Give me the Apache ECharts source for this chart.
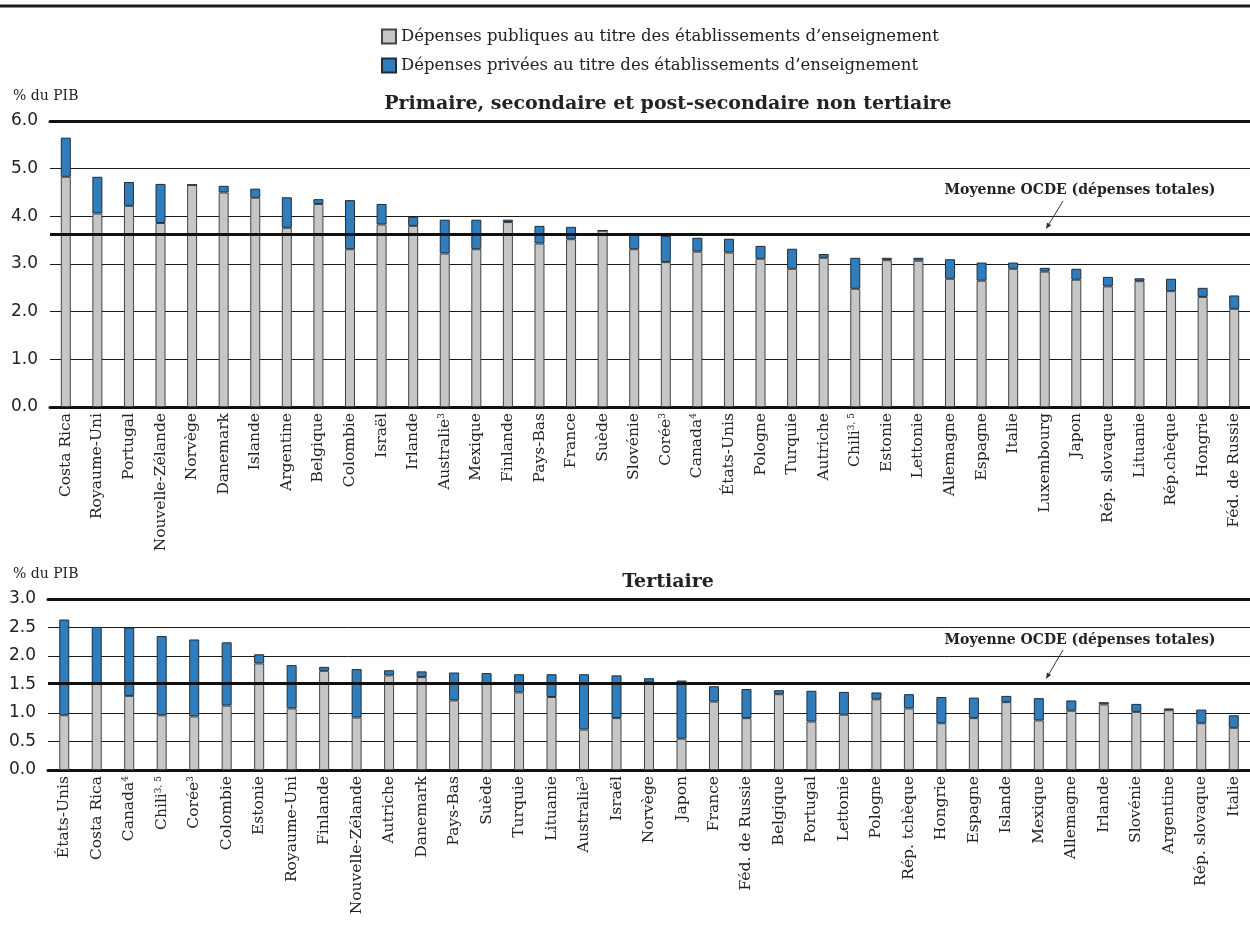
<!DOCTYPE html>
<html>
<head>
<meta charset="utf-8">
<title>Dépenses au titre des établissements d'enseignement</title>
<script src="https://cdn.jsdelivr.net/npm/echarts@6/dist/echarts.min.js"></script>
<style>
  html, body { margin: 0; padding: 0; background: #fff; }
  #chart { width: 1250px; height: 931px; }
</style>
</head>
<body>
<div id="chart"></div>
<script>
// Primaire, secondaire et post-secondaire non tertiaire (% du PIB)
const countriesSec = ['Costa Rica', 'Royaume-Uni', 'Portugal', 'Nouvelle-Zélande', 'Norvège', 'Danemark', 'Islande',
  'Argentine', 'Belgique', 'Colombie', 'Israël', 'Irlande', 'Australie^3', 'Mexique', 'Finlande', 'Pays-Bas', 'France',
  'Suède', 'Slovénie', 'Corée^3', 'Canada^4', 'États-Unis', 'Pologne', 'Turquie', 'Autriche', 'Chili^3, 5', 'Estonie',
  'Lettonie', 'Allemagne', 'Espagne', 'Italie', 'Luxembourg', 'Japon', 'Rép. slovaque', 'Lituanie', 'Rép.chèque',
  'Hongrie', 'Féd. de Russie']
const publicSec = [4.83, 4.06, 4.22, 3.86, 4.66, 4.50, 4.39, 3.76, 4.26, 3.31, 3.83, 3.80, 3.22, 3.31, 3.88, 3.43, 3.52,
  3.70, 3.31, 3.04, 3.26, 3.24, 3.11, 2.90, 3.13, 2.48, 3.08, 3.07, 2.69, 2.65, 2.90, 2.84, 2.67, 2.53, 2.64, 2.43, 2.31, 2.06]
const privateSec = [0.82, 0.77, 0.50, 0.82, 0.00, 0.14, 0.19, 0.64, 0.10, 1.03, 0.43, 0.19, 0.71, 0.62, 0.05, 0.37, 0.26,
  0.00, 0.34, 0.55, 0.29, 0.29, 0.27, 0.42, 0.08, 0.65, 0.05, 0.06, 0.41, 0.38, 0.13, 0.08, 0.23, 0.20, 0.06, 0.26, 0.19, 0.28]
const oecdSec = 3.62

// Tertiaire (% du PIB)
const countriesTer = ['États-Unis', 'Costa Rica', 'Canada^4', 'Chili^3, 5', 'Corée^3', 'Colombie', 'Estonie', 'Royaume-Uni',
  'Finlande', 'Nouvelle-Zélande', 'Autriche', 'Danemark', 'Pays-Bas', 'Suède', 'Turquie', 'Lituanie', 'Australie^3',
  'Israël', 'Norvège', 'Japon', 'France', 'Féd. de Russie', 'Belgique', 'Portugal', 'Lettonie', 'Pologne', 'Rép. tchèque',
  'Hongrie', 'Espagne', 'Islande', 'Mexique', 'Allemagne', 'Irlande', 'Slovénie', 'Argentine', 'Rép. slovaque', 'Italie']
const publicTer = [0.96, 1.52, 1.30, 0.96, 0.94, 1.13, 1.87, 1.08, 1.74, 0.92, 1.66, 1.63, 1.22, 1.52, 1.36, 1.28, 0.71,
  0.91, 1.54, 0.55, 1.20, 0.91, 1.33, 0.85, 0.97, 1.24, 1.08, 0.82, 0.91, 1.19, 0.87, 1.04, 1.15, 1.02, 1.05, 0.82, 0.74]
const privateTer = [1.68, 0.99, 1.20, 1.39, 1.35, 1.11, 0.16, 0.76, 0.07, 0.85, 0.09, 0.10, 0.49, 0.18, 0.32, 0.40, 0.97,
  0.75, 0.07, 1.02, 0.27, 0.51, 0.07, 0.54, 0.40, 0.12, 0.25, 0.46, 0.36, 0.11, 0.39, 0.18, 0.04, 0.14, 0.03, 0.24, 0.22]
const oecdTer = 1.52

const ticksSec = { min: 0, max: 6, interval: 1 }
const ticksTer = { min: 0, max: 3, interval: 0.5 }

const NAME_PUB = 'Dépenses publiques au titre des établissements d’enseignement'
const NAME_PRIV = 'Dépenses privées au titre des établissements d’enseignement'
const serif = 'DejaVu Serif'
const grey = '#c6c6c6'
const blue = '#2f7dbd'
const ink = '#222'

const chart = echarts.init(document.getElementById('chart'))

function catAxis(idx, data) {
  return {
    type: 'category',
    gridIndex: idx,
    data: data,
    axisLine: { lineStyle: { color: '#111', width: 3 } },
    axisTick: { show: false },
    axisLabel: {
      interval: 0,
      rotate: 90,
      margin: 6,
      fontFamily: serif,
      fontSize: 15.5,
      color: ink,
      formatter: v => {
        const p = v.split('^')
        return p.length > 1 ? p[0] + '{sup|' + p[1] + '}' : v
      },
      rich: { sup: { fontSize: 9, fontFamily: serif, color: ink, verticalAlign: 'top', lineHeight: 9 } }
    }
  }
}

function topAxis(idx, data) {
  return {
    type: 'category',
    gridIndex: idx,
    position: 'top',
    data: data,
    axisLine: { lineStyle: { color: '#111', width: 3 } },
    axisTick: { show: false },
    axisLabel: { show: false }
  }
}

function valAxis(idx, t) {
  return {
    type: 'value',
    gridIndex: idx,
    min: t.min,
    max: t.max,
    interval: t.interval,
    axisLine: { show: false },
    axisTick: { show: false },
    splitLine: { lineStyle: { color: '#1a1a1a', width: 1 } },
    axisLabel: {
      margin: 12,
      fontFamily: 'DejaVu Sans',
      fontSize: 17,
      color: ink,
      formatter: v => v.toFixed(1)
    }
  }
}

function bars(idx, stack, pub, priv, avg) {
  const base = { type: 'bar', xAxisIndex: idx, yAxisIndex: idx, stack: stack, barWidth: 10 }
  return [
    Object.assign({}, base, {
      name: NAME_PUB,
      data: pub,
      itemStyle: { color: grey, borderColor: '#444', borderWidth: 1 }
    }),
    Object.assign({}, base, {
      name: NAME_PRIV,
      data: priv,
      itemStyle: { color: blue, borderColor: '#1f2d3a', borderWidth: 1 },
      markLine: {
        silent: true,
        symbol: 'none',
        z: 10,
        label: { show: false },
        lineStyle: { color: '#111', width: 3, type: 'solid' },
        data: [{ yAxis: avg }]
      }
    })
  ]
}

function arrow(x1, y1, x2, y2) {
  const dx = x2 - x1, dy = y2 - y1
  const len = Math.sqrt(dx * dx + dy * dy)
  const ux = dx / len, uy = dy / len
  const bx = x2 - ux * 6, by = y2 - uy * 6
  return [
    { type: 'line', shape: { x1, y1, x2: bx, y2: by }, style: { stroke: '#333', lineWidth: 1 } },
    {
      type: 'polygon',
      shape: { points: [[x2, y2], [bx + uy * 2.5, by - ux * 2.5], [bx - uy * 2.5, by + ux * 2.5]] },
      style: { fill: '#333' }
    }
  ]
}

function note(x, y) {
  return {
    type: 'text',
    style: { text: 'Moyenne OCDE (dépenses totales)', x, y, align: 'center', verticalAlign: 'middle',
      font: 'bold 14px "DejaVu Serif"', fill: ink }
  }
}

function plainText(txt, x, y, font, align) {
  return {
    type: 'text',
    style: { text: txt, x, y, align: align || 'left', verticalAlign: 'middle', font, fill: ink }
  }
}

chart.setOption({
  animation: false,
  legend: {
    orient: 'vertical',
    left: 376,
    top: 23,
    itemWidth: 14,
    itemHeight: 14,
    itemGap: 12,
    icon: 'rect',
    data: [NAME_PUB, NAME_PRIV],
    textStyle: { fontFamily: serif, fontSize: 16.5, color: ink }
  },
  grid: [
    { left: 50, top: 121, width: 1201, height: 286 },
    { left: 48, top: 599, width: 1206, height: 171 }
  ],
  xAxis: [catAxis(0, countriesSec), catAxis(1, countriesTer), topAxis(0, countriesSec), topAxis(1, countriesTer)],
  yAxis: [valAxis(0, ticksSec), valAxis(1, ticksTer)],
  series: [].concat(
    bars(0, 'sec', publicSec, privateSec, oecdSec),
    bars(1, 'ter', publicTer, privateTer, oecdTer)
  ),
  graphic: [
    { type: 'rect', shape: { x: 0, y: 4.5, width: 1250, height: 3 }, style: { fill: '#1a1a1a' } },
    plainText('% du PIB', 13, 96, '14px "DejaVu Serif"'),
    plainText('% du PIB', 13, 574, '14px "DejaVu Serif"'),
    plainText('Primaire, secondaire et post-secondaire non tertiaire', 668, 104, 'bold 19px "DejaVu Serif"', 'center'),
    plainText('Tertiaire', 668, 582, 'bold 19px "DejaVu Serif"', 'center'),
    note(1080, 190),
    note(1080, 640)
  ].concat(arrow(1063, 201, 1046, 229), arrow(1063, 650, 1046, 679))
})
</script>
</body>
</html>
